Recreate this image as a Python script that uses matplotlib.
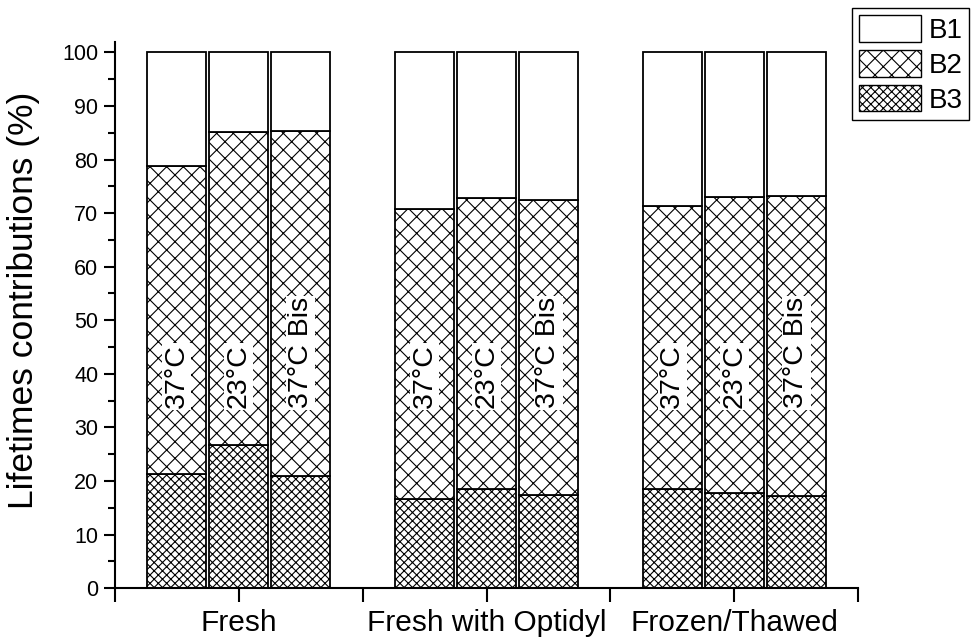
import numpy as np
import matplotlib.pyplot as plt
from matplotlib.patches import Patch
from matplotlib.ticker import MultipleLocator

plt.rcParams['font.family'] = ['Liberation Sans', 'DejaVu Sans']
plt.rcParams['hatch.linewidth'] = 0.8

groups = ['Fresh', 'Fresh with Optidyl', 'Frozen/Thawed']
conditions = ['37°C', '23°C', '37°C Bis']

# contributions (%) per group, in the order of conditions
b3 = [[21.3, 26.8, 21.0],
      [16.6, 18.5, 17.3],
      [18.5, 17.8, 17.1]]
b2 = [[57.5, 58.4, 64.4],
      [54.2, 54.3, 55.1],
      [52.9, 55.2, 56.1]]
b1 = [[21.2, 14.8, 14.6],
      [29.2, 27.2, 27.6],
      [28.6, 27.0, 26.8]]

fig = plt.figure(figsize=(9.73, 6.42), dpi=100)
ax = fig.add_axes([0.118, 0.084, 0.764, 0.851])

width = 0.24
step = 0.25
for g in range(len(groups)):
    for c in range(len(conditions)):
        x = g + 1 + (c - 1) * step
        ax.bar(x, b3[g][c], width, color='white', edgecolor='black',
               hatch='xxxx', linewidth=1.3)
        ax.bar(x, b2[g][c], width, bottom=b3[g][c], color='white',
               edgecolor='black', hatch='xx', linewidth=1.3)
        ax.bar(x, b1[g][c], width, bottom=b3[g][c] + b2[g][c],
               color='white', edgecolor='black', linewidth=1.3)
        ax.text(x, 33.6, conditions[c], rotation=90, ha='center',
                va='bottom', fontsize=20.5,
                bbox=dict(facecolor='white', edgecolor='none', pad=1))

ax.set_xlim(0.5, 3.5)
ax.set_ylim(0, 102)
ax.set_xticks([1, 2, 3])
ax.set_xticklabels(groups)
ax.set_xticks([0.5, 1.5, 2.5, 3.5], minor=True)
ax.yaxis.set_major_locator(MultipleLocator(10))
ax.yaxis.set_minor_locator(MultipleLocator(5))
ax.tick_params(axis='y', which='major', length=8, width=1.5,
               labelsize=15.5, pad=4)
ax.tick_params(axis='y', which='minor', length=5, width=1.5)
ax.tick_params(axis='x', which='both', length=10, width=1.5,
               labelsize=21.5, pad=5)
ax.set_ylabel('Lifetimes contributions (%)', fontsize=25.5)
ax.yaxis.set_label_coords(-0.101, 0.527)

for side in ['top', 'right']:
    ax.spines[side].set_visible(False)
for side in ['left', 'bottom']:
    ax.spines[side].set_linewidth(1.5)

handles = [Patch(facecolor='white', edgecolor='black', label='B1'),
           Patch(facecolor='white', edgecolor='black', hatch='xx', label='B2'),
           Patch(facecolor='white', edgecolor='black', hatch='xxxx', label='B3')]
leg = fig.legend(handles=handles, loc='upper left',
                 bbox_to_anchor=(852 / 973, 1 - 8 / 642), fontsize=20,
                 handlelength=2.25, handleheight=1.1, labelspacing=0.22,
                 handletextpad=0.25, borderpad=0.25, borderaxespad=0,
                 fancybox=False, framealpha=1)
leg.get_frame().set_edgecolor('black')
leg.get_frame().set_linewidth(1)

fig.savefig('out.png', dpi=100)
